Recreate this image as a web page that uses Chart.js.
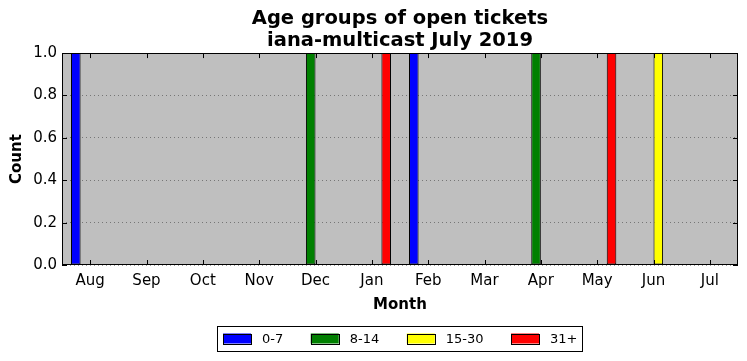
<!DOCTYPE html>
<html>
<head>
<meta charset="utf-8">
<script src="https://cdn.jsdelivr.net/npm/chart.js@4"></script>
<style>
  html, body { margin: 0; padding: 0; background: #fff; }
  #wrap { width: 747px; height: 361px; }
</style>
</head>
<body>
<div id="wrap"><canvas id="ageChart" width="747" height="361"></canvas></div>
<script>
// Chart data
const months = ['Aug', 'Sep', 'Oct', 'Nov', 'Dec', 'Jan', 'Feb', 'Mar', 'Apr', 'May', 'Jun', 'Jul'];
const age0to7   = [1, 0, 0, 0, 0, 0, 1, 0, 0, 0, 0, 0];
const age8to14  = [0, 0, 0, 0, 1, 0, 0, 0, 1, 0, 0, 0];
const age15to30 = [0, 0, 0, 0, 0, 0, 0, 0, 0, 0, 1, 0];
const age31plus = [0, 0, 0, 0, 0, 1, 0, 0, 0, 1, 0, 0];
const seriesLabels = ['0-7', '8-14', '15-30', '31+'];
const yTicks = [0, 0.2, 0.4, 0.6, 0.8, 1.0];

const FONT = 'DejaVu Sans';

// grey plot background, frame, inward ticks, boxed legend
const framePlugin = {
    id: 'frame',
    beforeDraw(chart) {
        const a = chart.chartArea;
        const ctx = chart.ctx;
        ctx.save();
        ctx.fillStyle = '#bfbfbf';
        ctx.fillRect(a.left, a.top, a.right - a.left, a.bottom - a.top);
        ctx.restore();
    },
    afterDraw(chart) {
        const a = chart.chartArea;
        const ctx = chart.ctx;
        const x = chart.scales.x;
        const y = chart.scales.y;
        ctx.save();
        ctx.strokeStyle = '#000';
        ctx.lineWidth = 1;
        ctx.beginPath();
        x.ticks.forEach((t, i) => {
            const px = Math.round(x.getPixelForTick(i)) + 0.5;
            ctx.moveTo(px, a.top); ctx.lineTo(px, a.top + 5);
            ctx.moveTo(px, a.bottom); ctx.lineTo(px, a.bottom - 5);
        });
        y.ticks.forEach((t, i) => {
            const py = Math.round(y.getPixelForTick(i)) + 0.5;
            ctx.moveTo(a.left, py); ctx.lineTo(a.left + 5, py);
            ctx.moveTo(a.right, py); ctx.lineTo(a.right - 5, py);
        });
        ctx.stroke();
        ctx.strokeRect(Math.round(a.left) + 0.5, Math.round(a.top) + 0.5,
            Math.round(a.right - a.left) - 1, Math.round(a.bottom - a.top) - 1);

        // legend
        const sets = chart.data.datasets;
        ctx.font = '13px "' + FONT + '"';
        const boxW = 28, boxH = 10, gapText = 11, gapItem = 27.5, padL = 6, padR = 5;
        let total = padL + padR;
        sets.forEach((ds, i) => {
            total += boxW + gapText + ctx.measureText(ds.label).width;
            if (i < sets.length - 1) total += gapItem;
        });
        const left = Math.round(399.5 - total / 2);
        const top = 326, h = 25, cy = top + h / 2;
        ctx.fillStyle = '#fff';
        ctx.fillRect(left, top, total, h);
        ctx.strokeRect(left + 0.5, top + 0.5, Math.round(total), h);
        let cx = left + padL;
        ctx.textBaseline = 'middle';
        ctx.textAlign = 'left';
        sets.forEach((ds) => {
            ctx.fillStyle = ds.backgroundColor;
            ctx.fillRect(cx, cy - boxH / 2, boxW, boxH);
            ctx.strokeRect(Math.round(cx) + 0.5, Math.round(cy - boxH / 2) + 0.5, boxW, boxH);
            cx += boxW + gapText;
            ctx.fillStyle = '#000';
            ctx.fillText(ds.label, cx, cy + 1);
            cx += ctx.measureText(ds.label).width + gapItem;
        });
        ctx.restore();
    }
};

const colors = ['#0000ff', '#008000', '#ffff00', '#ff0000'];
const values = [age0to7, age8to14, age15to30, age31plus];

const ctx = document.getElementById('ageChart').getContext('2d');
new Chart(ctx, {
    type: 'bar',
    data: {
        labels: months,
        datasets: values.map((v, i) => ({
            label: seriesLabels[i],
            data: v,
            backgroundColor: colors[i],
            borderColor: '#000',
            borderWidth: 1,
            borderSkipped: false,
            categoryPercentage: 0.68,
            barPercentage: 1.0
        }))
    },
    options: {
        responsive: false,
        animation: false,
        devicePixelRatio: 1,
        layout: { padding: { top: 0, right: 9, bottom: 47, left: 0 } },
        plugins: {
            legend: { display: false },
            tooltip: { enabled: false },
            title: {
                display: true,
                fullSize: false,
                text: ['Age groups of open tickets', 'iana-multicast July 2019'],
                color: '#000',
                font: { family: FONT, size: 19.5, weight: 'bold', lineHeight: 1.13 },
                padding: { top: 8, bottom: 1 }
            }
        },
        scales: {
            x: {
                offset: true,
                grid: { display: false, drawTicks: false },
                border: { display: false },
                ticks: { color: '#000', padding: 7, font: { family: FONT, size: 15 } },
                title: {
                    display: true, text: 'Month', color: '#000',
                    font: { family: FONT, size: 15, weight: 'bold', lineHeight: 1.2 },
                    padding: { top: 0, bottom: 0 }
                },
                afterFit(scale) { scale.height = 49; }
            },
            y: {
                min: 0,
                max: 1,
                afterBuildTicks(scale) { scale.ticks = yTicks.map(v => ({ value: v })); },
                grid: { color: 'rgba(0,0,0,0.38)', lineWidth: 1, drawTicks: false },
                border: { display: false, dash: [1, 3] },
                ticks: {
                    color: '#000', padding: 5,
                    font: { family: FONT, size: 15 },
                    callback: (v) => Number(v).toFixed(1)
                },
                title: {
                    display: true, text: 'Count', color: '#000',
                    font: { family: FONT, size: 15, weight: 'bold', lineHeight: 1.2 },
                    padding: { top: 8, bottom: 0 }
                },
                afterFit(scale) { scale.width = 62; }
            }
        }
    },
    plugins: [framePlugin]
});
</script>
</body>
</html>
